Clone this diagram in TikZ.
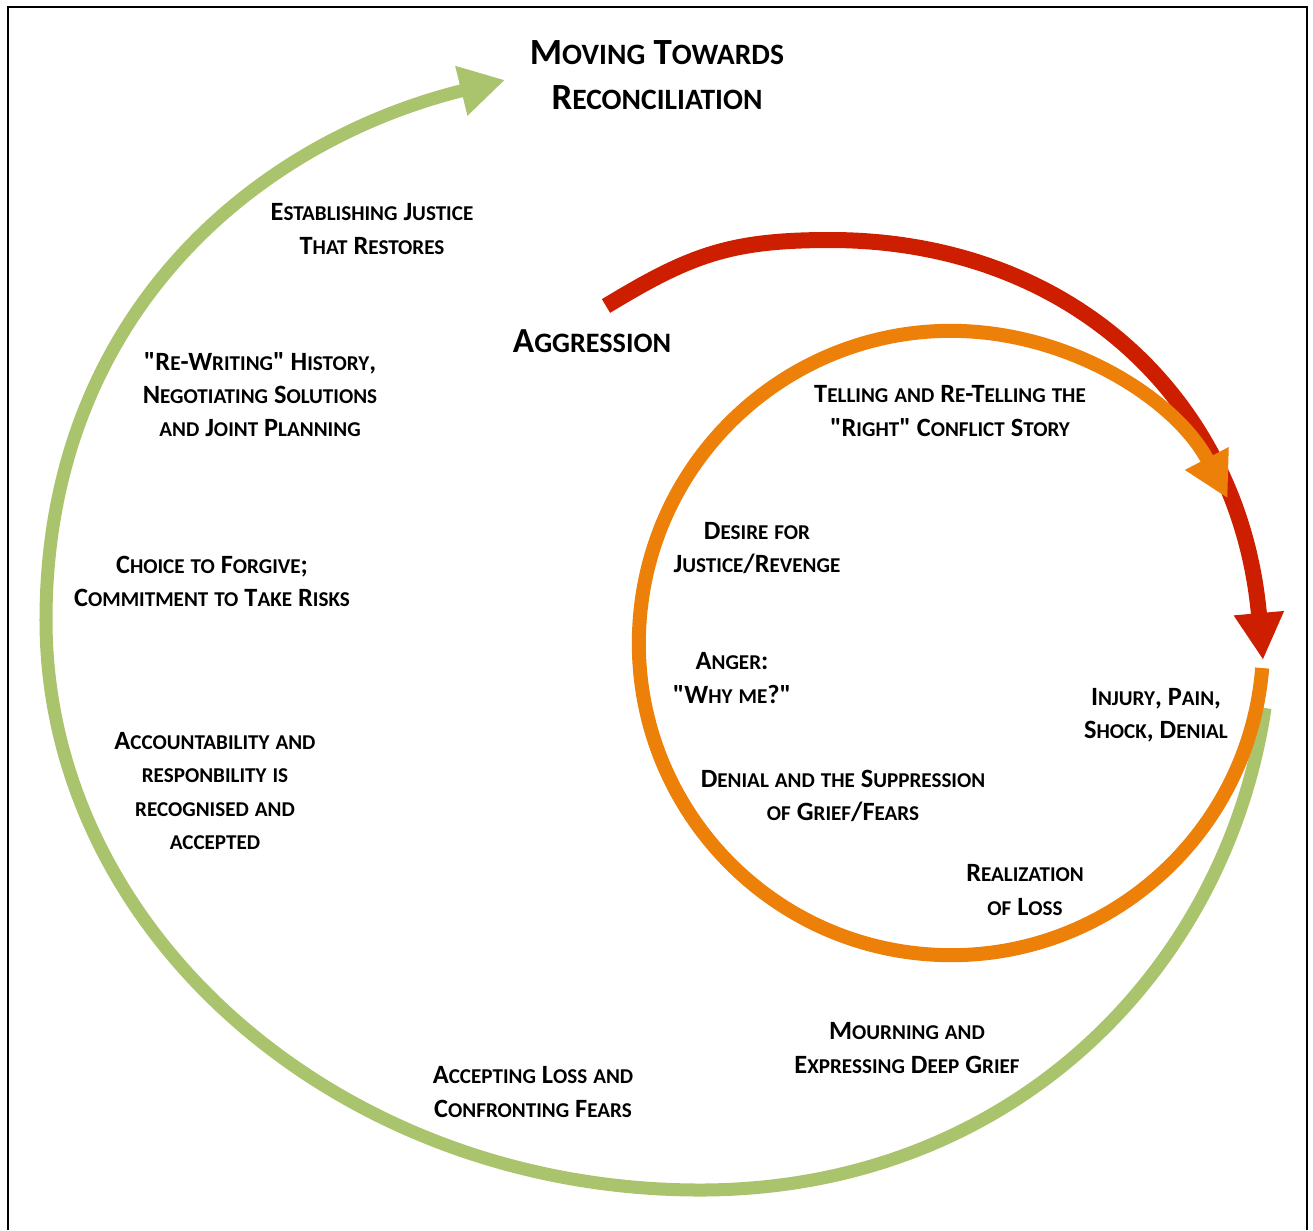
\documentclass[tikz,border=0pt]{standalone}
\usepackage{fontspec}
\newfontfamily\calib{Carlito}
\usetikzlibrary{arrows.meta}

% small caps done by hand (capital at full size, the rest smaller)
\makeatletter
\ExplSyntaxOn
\cs_new_protected:Npn \fsc_small:n #1
  { { \fontsize { \fp_eval:n { 0.8 * \f@size } } { \f@baselineskip } \selectfont #1 } }
\cs_new_protected:Npn \fsc_char:n #1
  {
    \str_if_eq:eeTF { #1 } { \text_uppercase:n { #1 } }
      { #1 }
      { \fsc_small:n { \text_uppercase:n { #1 } } }
  }
\NewDocumentCommand \fsc { m }
  {
    \seq_set_split:Nnn \l_tmpa_seq { ~ } { #1 }
    \seq_map_indexed_inline:Nn \l_tmpa_seq
      {
        \int_compare:nNnT { ##1 } > { 1 } { \c_space_tl }
        \tl_map_inline:nn { ##2 } { \fsc_char:n { ####1 } }
      }
  }
\ExplSyntaxOff
\makeatother

\definecolor{spiralgreen}{RGB}{169,196,108}
\definecolor{aggred}{RGB}{206,30,0}
\definecolor{cycleorange}{RGB}{236,128,8}

\begin{document}
\begin{tikzpicture}[x=0.01cm,y=-0.01cm,
    lbl/.style={align=center,inner sep=0pt,font=\calib\bfseries\fontsize{7.5}{9.4}\selectfont},
    ttl/.style={align=center,inner sep=0pt,font=\calib\bfseries\fontsize{10.5}{13}\selectfont},
    band/.style={line cap=butt,line join=round}]
    \useasboundingbox (0,0) rectangle (1313,1230);
    \draw[line width=0.8pt] (8,1230) -- (8,7) -- (1307,7) -- (1307,1230);

    % outer spiral
    \draw[band,spiralgreen,line width=0.13cm,-{Triangle[length=0.45cm,width=0.48cm]}]
        (1265,708) .. controls (1226,970) and (1011,1190) .. (700,1190)
        .. controls (340,1190) and (46,933) .. (46,620)
        .. controls (46,320) and (250,143) .. (505,80);

    % aggression arrow
    \draw[band,aggred,line width=0.16cm,-{Triangle[length=0.47cm,width=0.47cm]}]
        (606,306) .. controls (690,255) and (730,240) .. (830,240)
        .. controls (1070,240) and (1240,400) .. (1263,660);

    % inner cycle
    \draw[band,cycleorange,line width=0.14cm,-{Triangle[length=0.45cm,width=0.46cm]}]
        (951,643) ++(-4.6:3.12cm) arc[start angle=-4.6,end angle=-332.4,radius=3.12cm];

    \node[ttl] (title) at (657,75) {\fsc{Moving Towards}\\\fsc{Reconciliation}};
    \node[ttl,font=\calib\bfseries\fontsize{10}{13}\selectfont] (aggression) at (592,341) {\fsc{Aggression}};
    \node[lbl] (justice) at (372,229) {\fsc{Establishing Justice}\\\fsc{That Restores}};
    \node[lbl] (rewrite) at (260,395) {\fsc{"Re-Writing" History,}\\\fsc{Negotiating Solutions}\\\fsc{and Joint Planning}};
    \node[lbl] (forgive) at (212,581) {\fsc{Choice to Forgive;}\\\fsc{Commitment to Take Risks}};
    \node[lbl] (account) at (215,791) {\fsc{Accountability and}\\\fsc{responbility is}\\\fsc{recognised and}\\\fsc{accepted}};
    \node[lbl] (accept) at (533,1092) {\fsc{Accepting Loss and}\\\fsc{Confronting Fears}};
    \node[lbl] (mourn) at (907,1048) {\fsc{Mourning and}\\\fsc{Expressing Deep Grief}};
    \node[lbl] (realize) at (1025,890) {\fsc{Realization}\\\fsc{of Loss}};
    \node[lbl] (injury) at (1156,715) {\fsc{Injury, Pain,}\\\fsc{Shock, Denial}};
    \node[lbl] (denial) at (843,796) {\fsc{Denial and the Suppression}\\\fsc{of Grief/Fears}};
    \node[lbl] (anger) at (732,678) {\fsc{Anger:}\\\fsc{"Why me?"}};
    \node[lbl] (desire) at (757,548) {\fsc{Desire for}\\\fsc{Justice/Revenge}};
    \node[lbl] (telling) at (950,411) {\fsc{Telling and Re-Telling the}\\\fsc{"Right" Conflict Story}};
\end{tikzpicture}
\end{document}
